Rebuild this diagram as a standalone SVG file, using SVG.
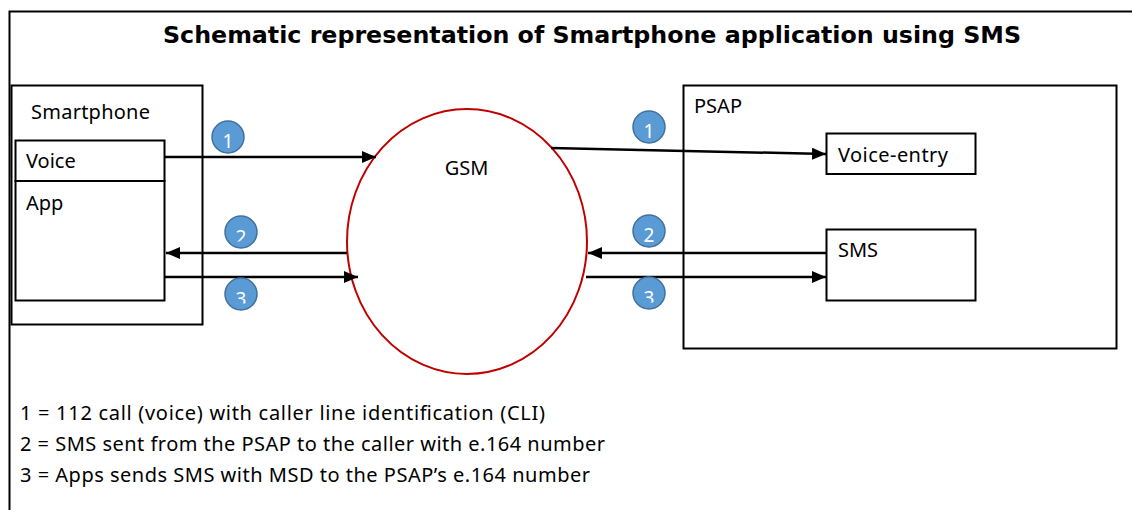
<svg xmlns="http://www.w3.org/2000/svg" width="1132" height="510" viewBox="0 0 1132 510">
  <style>
    .box { fill: none; stroke: #000; stroke-width: 2; }
    .lbl { font-family: "Noto Sans", "Open Sans", sans-serif; font-size: 20px; fill: #000; }
    .title { font-family: "DejaVu Sans", Verdana, sans-serif; font-weight: bold; font-size: 22.5px; fill: #000; }
    .flow { fill: none; stroke: #000; stroke-width: 2.5; marker-end: url(#arrow); }
    .badge { fill: #5B9BD5; stroke: #41719C; stroke-width: 1.5; }
    .num { font-family: "Noto Sans", "Open Sans", sans-serif; font-size: 19px; fill: #fff; text-anchor: middle; }
  </style>
  <defs>
    <marker id="arrow" markerUnits="userSpaceOnUse" markerWidth="14" markerHeight="12" refX="14" refY="6" orient="auto">
      <path d="M0,0 L14,6 L0,12 Z" fill="#000"/>
    </marker>
    <!-- lower edge cut for badge digits that overflow their text frame -->
    <clipPath id="numCut"><rect x="-20" y="-20" width="40" height="29.5"/></clipPath>
  </defs>

  <!-- outer frame (top and left edges) -->
  <path d="M1132,11.5 H9.5 V510" fill="none" stroke="#000" stroke-width="2"/>

  <text class="title" x="163" y="43" textLength="858" lengthAdjust="spacingAndGlyphs">Schematic representation of Smartphone application using SMS</text>

  <g id="smartphone">
    <rect class="box" x="11.5" y="85.5" width="191" height="239"/>
    <text class="lbl" x="31" y="119" textLength="119">Smartphone</text>
  </g>
  <g id="voice">
    <rect class="box" x="15.5" y="140.5" width="149" height="40.5"/>
    <text class="lbl" x="26" y="168">Voice</text>
  </g>
  <g id="app">
    <rect class="box" x="15.5" y="181" width="149" height="119.5"/>
    <text class="lbl" x="26" y="210">App</text>
  </g>

  <g id="gsm">
    <ellipse cx="467" cy="241.5" rx="120" ry="132.5" fill="none" stroke="#C00000" stroke-width="2"/>
    <text class="lbl" x="466.5" y="175" text-anchor="middle">GSM</text>
  </g>

  <g id="psap">
    <rect class="box" x="683.5" y="85.5" width="433" height="263"/>
    <text class="lbl" x="694" y="113" textLength="48">PSAP</text>
  </g>
  <g id="voice-entry">
    <rect class="box" x="826.5" y="133.5" width="149" height="40.5"/>
    <text class="lbl" x="838" y="162" textLength="110">Voice-entry</text>
  </g>
  <g id="sms">
    <rect class="box" x="826.5" y="229.5" width="149" height="71"/>
    <text class="lbl" x="838" y="257">SMS</text>
  </g>

  <g id="connectors">
    <line class="flow" x1="165" y1="157" x2="376" y2="157"/>
    <line class="flow" x1="551" y1="148" x2="826" y2="154"/>
    <line class="flow" x1="347" y1="253" x2="166" y2="253"/>
    <line class="flow" x1="826" y1="253" x2="588" y2="253"/>
    <line class="flow" x1="165" y1="277" x2="358" y2="277"/>
    <line class="flow" x1="586" y1="277" x2="826" y2="277"/>
  </g>

  <g id="badges">
    <g transform="translate(228,137)"><circle class="badge" r="16"/><text class="num" y="10.5">1</text></g>
    <g transform="translate(241,232)"><circle class="badge" r="16"/><text class="num" y="12" clip-path="url(#numCut)">2</text></g>
    <g transform="translate(241,294)"><circle class="badge" r="16"/><text class="num" y="12" clip-path="url(#numCut)">3</text></g>
    <g transform="translate(649,127)"><circle class="badge" r="16"/><text class="num" y="10.5">1</text></g>
    <g transform="translate(649,231)"><circle class="badge" r="16"/><text class="num" y="10.5">2</text></g>
    <g transform="translate(649,293)"><circle class="badge" r="16"/><text class="num" y="12" clip-path="url(#numCut)">3</text></g>
  </g>

  <g id="legend">
    <text class="lbl" x="20" y="420" textLength="525">1 = 112 call (voice) with caller line identification (CLI)</text>
    <text class="lbl" x="20" y="451" textLength="585">2 = SMS sent from the PSAP to the caller with e.164 number</text>
    <text class="lbl" x="20" y="482" textLength="570">3 = Apps sends SMS with MSD to the PSAP’s e.164 number</text>
  </g>
</svg>
